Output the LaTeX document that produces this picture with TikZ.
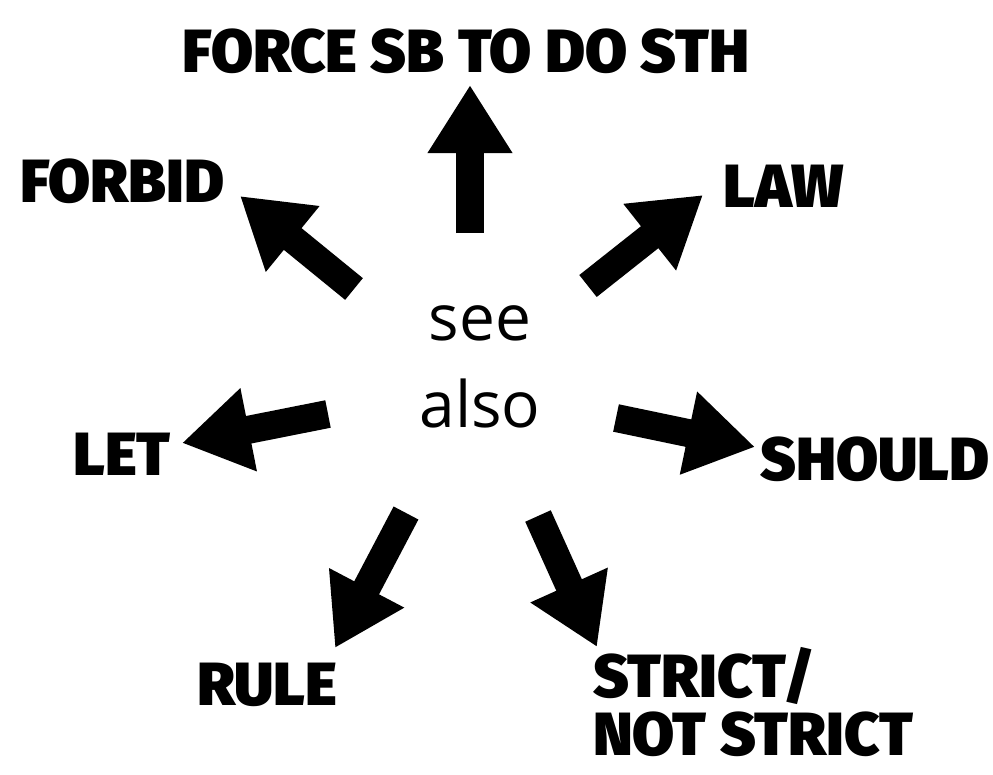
\documentclass[tikz,border=0pt]{standalone}
\usepackage{fontspec}
\usetikzlibrary{arrows.meta}
\IfFontExistsTF{Fira Sans Black}
  {\newfontfamily\lblfontfam{Fira Sans Black}\newcommand\lblfont{\lblfontfam}}
  {\newfontfamily\lblfontfam{DejaVu Sans}\newcommand\lblfont{\lblfontfam\bfseries}}
\newfontfamily\seefontfam{Open Sans}
\begin{document}
\begin{tikzpicture}[x=1pt,y=-1pt,
  lbl/.style={inner sep=0pt, font=\lblfont\fontsize{61}{58}\selectfont, align=left},
  seealso/.style={inner sep=0pt, font=\seefontfam\fontsize{64}{87}\selectfont, align=center},
  arr/.style={line width=28pt, draw=black, -{Triangle[length=68pt,width=80pt]}}]
\useasboundingbox[fill=white] (0,0) rectangle (993,774);
% centre text
\node[seealso, anchor=base] (c) at (480,427) {see\\also};
% labels
\node[lbl, anchor=base] (force) at (466,72) {FORCE SB TO DO STH};
\node[lbl, anchor=base west] (forbid) at (20,202) {FORBID};
\node[lbl, anchor=base west] (law) at (723,207) {LAW};
\node[lbl, anchor=base west] (let) at (73,475) {LET};
\node[lbl, anchor=base west] (should) at (760,480) {SHOULD};
\node[lbl, anchor=base west] (rule) at (197,705) {RULE};
\node[lbl, anchor=base west] (strict) at (593,755) {STRICT/\\NOT STRICT};
% arrow ends
\coordinate (t1) at (470,233); \coordinate (h1) at (470,85);
\coordinate (t2) at (354,289); \coordinate (h2) at (240,196);
\coordinate (t3) at (588,286); \coordinate (h3) at (703,195);
\coordinate (t4) at (328,414); \coordinate (h4) at (182,443);
\coordinate (t5) at (616,418); \coordinate (h5) at (755,447);
\coordinate (t6) at (406,513); \coordinate (h6) at (335,648);
\coordinate (t7) at (538,516); \coordinate (h7) at (597,647);
\draw[arr] (t1) -- (h1);
\draw[arr] (t2) -- (h2);
\draw[arr] (t3) -- (h3);
\draw[arr] (t4) -- (h4);
\draw[arr] (t5) -- (h5);
\draw[arr] (t6) -- (h6);
\draw[arr] (t7) -- (h7);
\end{tikzpicture}
\end{document}
